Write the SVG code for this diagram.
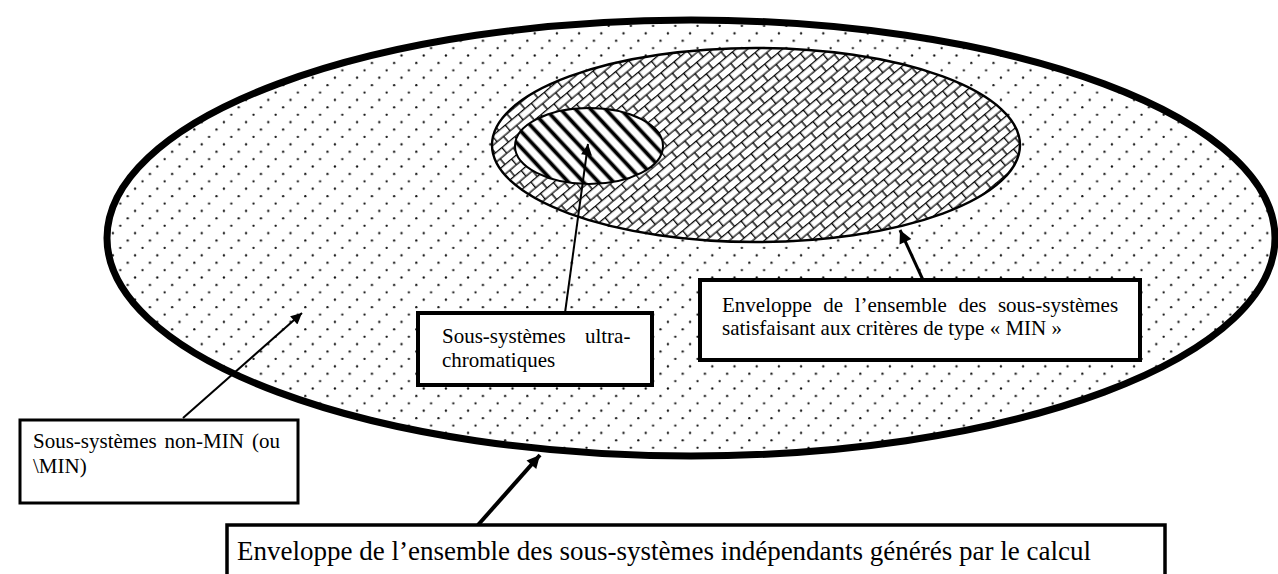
<svg xmlns="http://www.w3.org/2000/svg" width="1278" height="574" viewBox="0 0 1278 574">
  <style>
    .box { fill: #ffffff; stroke: #000000; }
    .lbl { font-family: "Liberation Serif", "Times New Roman", serif; font-size: 21px; fill: #000000; }
    .big { font-size: 27px; }
    .conn { stroke: #000000; fill: none; }
  </style>
  <defs>
    <pattern id="dots" width="22.2" height="22.2" patternUnits="userSpaceOnUse">
      <rect width="22.2" height="22.2" fill="#ffffff"/>
      <circle cx="9.3" cy="3.7" r="1.15" fill="#111"/>
      <circle cx="1.9" cy="11.1" r="1.15" fill="#111"/>
      <circle cx="16.7" cy="18.5" r="1.15" fill="#111"/>
    </pattern>
    <pattern id="bricks" width="17" height="15" patternUnits="userSpaceOnUse" patternTransform="rotate(-40)">
      <rect width="17" height="15" fill="#ffffff"/>
      <path d="M0,0.6 H17 M0,8.1 H17 M0.6,0.6 V8.1 M9.1,8.1 V15" stroke="#000" stroke-width="1.4" fill="none"/>
    </pattern>
    <pattern id="hatch" width="11" height="11" patternUnits="userSpaceOnUse" patternTransform="rotate(47)">
      <rect width="11" height="11" fill="#ffffff"/>
      <line x1="0" y1="5.5" x2="11" y2="5.5" stroke="#000" stroke-width="3.8"/>
    </pattern>
    <marker id="arrS" viewBox="0 0 10 10" refX="10" refY="5" markerUnits="userSpaceOnUse" markerWidth="15" markerHeight="11" orient="auto">
      <path d="M0,0 L10,5 L0,10 z" fill="#000"/>
    </marker>
    <marker id="arrL" viewBox="0 0 10 10" refX="10" refY="5" markerUnits="userSpaceOnUse" markerWidth="17" markerHeight="13" orient="auto">
      <path d="M0,0 L10,5 L0,10 z" fill="#000"/>
    </marker>
  </defs>

  <rect width="1278" height="574" fill="#ffffff"/>

  <g id="outer-ellipse">
    <ellipse cx="691" cy="238" rx="584" ry="218" fill="url(#dots)" stroke="#000" stroke-width="7"/>
  </g>
  <g id="min-ellipse">
    <ellipse cx="756" cy="145" rx="264" ry="97" fill="url(#bricks)" stroke="#000" stroke-width="2.4"/>
  </g>
  <g id="ultra-ellipse">
    <ellipse cx="589" cy="146" rx="74" ry="38" fill="url(#hatch)" stroke="#000" stroke-width="2"/>
  </g>

  <g id="connectors">
    <line class="conn" x1="183" y1="418" x2="302" y2="313" stroke-width="2" marker-end="url(#arrS)"/>
    <line class="conn" x1="565" y1="313" x2="588" y2="144" stroke-width="2" marker-end="url(#arrS)"/>
    <line class="conn" x1="923" y1="280" x2="900" y2="230" stroke-width="3" marker-end="url(#arrL)"/>
    <line class="conn" x1="478" y1="525" x2="540" y2="455" stroke-width="4" marker-end="url(#arrL)"/>
  </g>

  <g id="box-nonmin">
    <rect class="box" x="20" y="420" width="278" height="83" stroke-width="3"/>
    <text class="lbl" x="33" y="448" word-spacing="2.7">Sous-systèmes non-MIN (ou</text>
    <text class="lbl" x="33" y="473">\MIN)</text>
  </g>

  <g id="box-ultra">
    <rect class="box" x="418" y="313" width="234" height="72" stroke-width="4"/>
    <text class="lbl" x="442" y="343" word-spacing="14">Sous-systèmes ultra-</text>
    <text class="lbl" x="442" y="367">chromatiques</text>
  </g>

  <g id="box-min">
    <rect class="box" x="700" y="280" width="440" height="80" stroke-width="4"/>
    <text class="lbl" x="722" y="312" word-spacing="6.3">Enveloppe de l’ensemble des sous-systèmes</text>
    <text class="lbl" x="722" y="335">satisfaisant aux critères de type « MIN »</text>
  </g>

  <g id="box-envelope">
    <rect class="box" x="227" y="525" width="938" height="60" stroke-width="3.5"/>
    <text class="lbl big" x="237" y="560">Enveloppe de l’ensemble des sous-systèmes indépendants générés par le calcul</text>
  </g>
</svg>
